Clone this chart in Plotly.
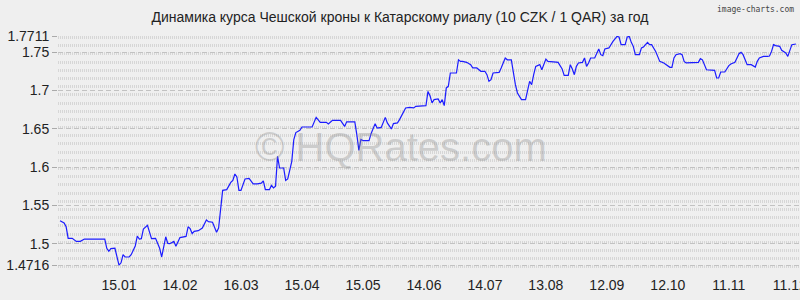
import pandas as pd
import plotly.graph_objects as go

# ---- data ----
start_date = "2016-12-16"
end_date = "2017-12-16"
day_offsets = [1, 3, 4, 5, 7, 9, 11, 13, 23, 24, 25, 26, 28, 30, 31, 32, 33, 35, 36, 38,
               39, 40, 41, 42, 44, 45, 46, 48, 50, 51, 52, 53, 54, 55, 57, 58, 60, 62, 63, 64,
               65, 66, 67, 69, 71, 73, 74, 76, 78, 79, 80, 81, 83, 85, 86, 87, 88, 89, 90, 92,
               94, 96, 98, 100, 101, 102, 104, 105, 106, 107, 108, 109, 111, 112, 113, 115, 116, 117, 119, 120,
               125, 127, 129, 132, 133, 135, 139, 140, 141, 142, 146, 147, 148, 149, 150, 153, 154, 156, 157, 159,
               160, 161, 162, 164, 165, 167, 168, 169, 170, 171, 173, 175, 176, 179, 181, 182, 183, 184, 185, 187,
               188, 189, 190, 191, 192, 193, 196, 197, 198, 199, 201, 203, 204, 206, 208, 210, 211, 212, 213, 214,
               217, 218, 220, 221, 223, 225, 226, 228, 230, 232, 233, 234, 235, 237, 238, 240, 241, 245, 246, 248,
               249, 251, 252, 253, 254, 255, 256, 258, 259, 260, 261, 262, 264, 266, 267, 268, 269, 271, 273, 275,
               276, 277, 279, 280, 281, 282, 283, 284, 286, 287, 288, 290, 291, 292, 294, 295, 296, 298, 299, 301,
               302, 303, 304, 306, 307, 308, 309, 312, 314, 315, 316, 317, 319, 322, 323, 324, 325, 326, 328, 330,
               331, 333, 335, 336, 337, 339, 341, 343, 344, 345, 347, 349, 350, 351, 352, 353, 355, 356, 358, 359,
               360, 361, 363]
rates = [1.530, 1.527, 1.522, 1.507, 1.507, 1.503, 1.503, 1.506, 1.506, 1.494, 1.490, 1.4935, 1.494, 1.472, 1.475, 1.4856, 1.4826, 1.4826, 1.4856, 1.497,
         1.510, 1.506, 1.5065, 1.519, 1.524, 1.514, 1.5065, 1.507, 1.494, 1.4826, 1.497, 1.509, 1.5004, 1.500, 1.503, 1.4965, 1.508, 1.5095, 1.5095, 1.522,
         1.5196, 1.513, 1.516, 1.517, 1.5205, 1.531, 1.5287, 1.528, 1.5148, 1.5205, 1.5487, 1.5696, 1.5705, 1.580, 1.5826, 1.591, 1.587, 1.5696, 1.5696, 1.5845,
         1.5853, 1.578, 1.578, 1.579, 1.582, 1.5705, 1.5705, 1.576, 1.5727, 1.575, 1.614, 1.5988, 1.5988, 1.5826, 1.5845, 1.6075, 1.636, 1.645, 1.648, 1.6523,
         1.6523, 1.6649, 1.6584, 1.6584, 1.6563, 1.661, 1.661, 1.6576, 1.6531, 1.659, 1.659, 1.6423, 1.6218, 1.636, 1.6345, 1.6345, 1.6436, 1.6567, 1.651, 1.6518,
         1.6584, 1.6649, 1.6576, 1.6497, 1.6567, 1.6576, 1.6619, 1.667, 1.6714, 1.6772, 1.678, 1.6772, 1.6793, 1.6802, 1.6802, 1.6988, 1.693, 1.6837, 1.688, 1.689,
         1.6837, 1.688, 1.6802, 1.7033, 1.7054, 1.7228, 1.7228, 1.740, 1.738, 1.738, 1.7367, 1.7337, 1.7294, 1.7294, 1.725, 1.725, 1.7206, 1.7119, 1.714, 1.7228,
         1.7236, 1.7294, 1.7424, 1.740, 1.740, 1.7076, 1.6967, 1.688, 1.688, 1.7119, 1.7076, 1.7206, 1.7315, 1.7337, 1.727, 1.741, 1.738, 1.737, 1.7367, 1.728,
         1.7197, 1.7197, 1.7337, 1.728, 1.7206, 1.7315, 1.7359, 1.7367, 1.7424, 1.7315, 1.7359, 1.7424, 1.7424, 1.7541, 1.7467, 1.7454, 1.7541, 1.7555, 1.7641, 1.7706,
         1.7698, 1.7598, 1.7598, 1.7698, 1.7706, 1.7628, 1.7576, 1.7467, 1.7467, 1.7555, 1.7568, 1.7628, 1.7598, 1.7598, 1.751, 1.7445, 1.738, 1.7359, 1.7337, 1.7302,
         1.7302, 1.7424, 1.7467, 1.748, 1.7467, 1.738, 1.7359, 1.7359, 1.7367, 1.7367, 1.7415, 1.740, 1.727, 1.727, 1.7263, 1.7163, 1.7163, 1.7241, 1.7241, 1.7324,
         1.7346, 1.7367, 1.748, 1.7497, 1.7467, 1.7337, 1.7337, 1.7306, 1.738, 1.7424, 1.7445, 1.7445, 1.745, 1.751, 1.7598, 1.7585, 1.7576, 1.7524, 1.749, 1.7445,
         1.751, 1.7598, 1.7607]
x_tick_dates = ["2017-01-15", "2017-02-14", "2017-03-16", "2017-04-15", "2017-05-15", "2017-06-14",
                "2017-07-14", "2017-08-13", "2017-09-12", "2017-10-12", "2017-11-11", "2017-12-11"]
y_tick_values = [1.4716, 1.5, 1.55, 1.6, 1.65, 1.7, 1.75, 1.7711]
y_tick_labels = ["1.4716", "1.5", "1.55", "1.6", "1.65", "1.7", "1.75", "1.7711"]
title_text = "Динамика курса Чешской кроны к Катарскому риалу (10 CZK / 1 QAR) за год"

dates = pd.Timestamp(start_date) + pd.to_timedelta(day_offsets, unit="D")

BG = "#efefef"
FONT = "Arial, Liberation Sans, sans-serif"

fig = go.Figure()
fig.add_trace(go.Scatter(x=dates, y=rates, mode="lines",
                         line=dict(color="#1c1cff", width=1.2), hoverinfo="skip"))

fig.update_layout(
    width=800, height=300,
    margin=dict(l=58, r=0, t=36, b=25),
    paper_bgcolor=BG, plot_bgcolor=BG,
    showlegend=False,
    font=dict(family=FONT, size=14, color="#222222"),
    title=dict(text=title_text, x=(400 - 58) / 742, xanchor="center", xref="paper",
               y=1 - 17 / 300, yanchor="middle", yref="container",
               font=dict(family=FONT, size=14, color="#222222")),
)

fig.update_xaxes(
    range=[start_date, end_date],
    tickvals=pd.to_datetime(x_tick_dates), tickformat="%d.%m",
    showgrid=False, zeroline=False, showline=False, ticks="",
    ticklabeloverflow="allow", automargin=False,
    tickfont=dict(family=FONT, size=14, color="#222222"),
)
fig.update_yaxes(
    range=[1.4591, 1.7711],
    tickvals=y_tick_values, ticktext=y_tick_labels,
    showgrid=True, gridcolor="#c2c2c2", gridwidth=1, griddash="5px,3px",
    zeroline=False, showline=False,
    ticks="outside", ticklen=5, tickcolor="#aaaaaa",
    tickfont=dict(family=FONT, size=14, color="#222222"),
    minor=dict(tick0=1.4591, dtick=0.010692, showgrid=True,
               gridcolor="#d6d6d6", gridwidth=3, griddash="1px,1px", ticks=""),
)

fig.add_annotation(text="© HQRates.com", xref="paper", yref="paper",
                   x=(401 - 58) / 742, y=(275 - 147) / 239,
                   xanchor="center", yanchor="middle", showarrow=False,
                   font=dict(family=FONT, size=40, color="rgba(140,140,140,0.35)"))
fig.add_annotation(text="image-charts.com", xref="paper", yref="paper",
                   x=(796 - 58) / 742, y=(275 - 9) / 239,
                   xanchor="right", yanchor="middle", showarrow=False,
                   font=dict(family="DejaVu Sans Mono", size=8, color="#444444"))

fig.write_html("out.html")
